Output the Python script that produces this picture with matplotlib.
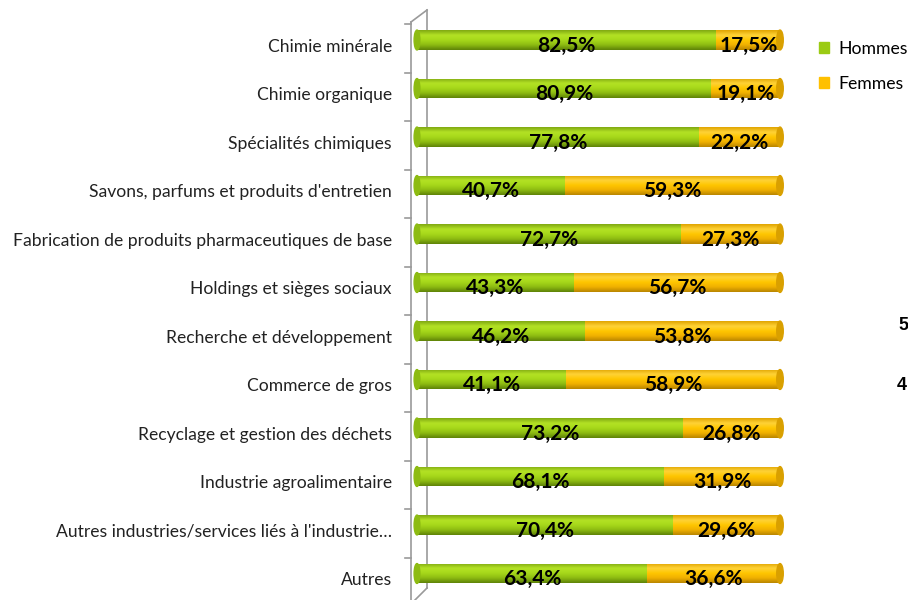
import numpy as np
import matplotlib
matplotlib.use("Agg")
import matplotlib.pyplot as plt
from matplotlib.colors import LinearSegmentedColormap
from matplotlib.patches import Patch, Ellipse

# ---------- données ----------
categories = [
    "Chimie minérale",
    "Chimie organique",
    "Spécialités chimiques",
    "Savons, parfums et produits d'entretien",
    "Fabrication de produits pharmaceutiques de base",
    "Holdings et sièges sociaux",
    "Recherche et développement",
    "Commerce de gros",
    "Recyclage et gestion des déchets",
    "Industrie agroalimentaire",
    "Autres industries/services liés à l'industrie…",
    "Autres",
]
hommes = [82.5, 80.9, 77.8, 40.7, 72.7, 43.3, 46.2, 41.1, 73.2, 68.1, 70.4, 63.4]
femmes = [17.5, 19.1, 22.2, 59.3, 27.3, 56.7, 53.8, 58.9, 26.8, 31.9, 29.6, 36.6]
series_labels = ["Hommes", "Femmes"]

vert = "#9BCB14"
orange = "#FFC000"
cmap_vert = LinearSegmentedColormap.from_list(
    "v", ["#7FA812", "#B4E225", "#A6D81A", "#8DBB12", "#5E8208"])
cmap_orange = LinearSegmentedColormap.from_list(
    "o", ["#E0A400", "#FFD338", "#FFC600", "#F0B000", "#B88500"])

plt.rcParams["font.family"] = ["Lato", "DejaVu Sans"]

fig = plt.figure(figsize=(9.08, 6.0), dpi=100)
# axe : 0 % -> 417 px, 100 % -> 780 px
px = 3.63
x_left, x_right = 405, 790
ax = fig.add_axes([x_left / 908, 2 / 600, (x_right - x_left) / 908, 588 / 600])
ax.set_xlim((x_left - 417) / px, (x_right - 417) / px)
y0, dy = 40, 48.5
ax.set_ylim((598 - y0) / dy, (10 - y0) / dy)
ax.axis("off")

y = np.arange(len(categories))
h = 0.41
grad = np.linspace(0, 1, 64).reshape(-1, 1)

def cylindre(bars, cmap):
    for b in bars:
        x, yb, w, hh = b.get_x(), b.get_y(), b.get_width(), b.get_height()
        im = ax.imshow(grad, cmap=cmap, aspect="auto", extent=(x, x + w, yb + hh, yb),
                       interpolation="bicubic", zorder=2)
        im.set_clip_path(b)

b1 = ax.barh(y, hommes, height=h, color=vert, zorder=1)
b2 = ax.barh(y, femmes, left=hommes, height=h, color=orange, zorder=1)
cylindre(b1, cmap_vert)
cylindre(b2, cmap_orange)

# bouts arrondis
for i in range(len(categories)):
    ax.add_patch(Ellipse((0, y[i]), 1.6, h, color="#8DBB12", zorder=3))
    ax.add_patch(Ellipse((100, y[i]), 1.8, h, color="#D9A000", zorder=3))

# étiquettes de valeurs
for i in range(len(categories)):
    ax.text(hommes[i] / 2, y[i] + 0.12, f"{hommes[i]:.1f}%".replace(".", ","),
            ha="center", va="center", fontsize=15, fontweight="bold", color="black", zorder=4)
    ax.text(hommes[i] + femmes[i] / 2, y[i] + 0.12, f"{femmes[i]:.1f}%".replace(".", ","),
            ha="center", va="center", fontsize=15, fontweight="bold", color="black", zorder=4)

# catégories
for i, cat in enumerate(categories):
    ax.text((392 - 417) / px, y[i] + 0.14, cat, ha="right", va="center",
            fontsize=12.6, color="#222222", clip_on=False)

# paroi 3D de l'axe
gris = "#9A9A9A"
xa, xb = (411 - 417) / px, (427 - 417) / px
ya_top, yb_top = (22 - y0) / dy, (10 - y0) / dy
ya_bot, yb_bot = (600 - y0) / dy, (588 - y0) / dy
ax.plot([xa, xa], [ya_top, ya_bot], color=gris, lw=1.2, clip_on=False, zorder=0)
ax.plot([xb, xb], [yb_top, yb_bot], color=gris, lw=1.2, clip_on=False, zorder=0)
ax.plot([xa, xb], [ya_top, yb_top], color=gris, lw=1.2, clip_on=False, zorder=0)
ax.plot([xa + 1.1, xb], [ya_bot, yb_bot], color=gris, lw=1.2, clip_on=False, zorder=0)
for k in range(len(categories)):
    yt = (24 + k * dy - y0) / dy
    ax.plot([(405 - 417) / px, xa], [yt, yt], color=gris, lw=1.2, clip_on=False, zorder=0)

# légende
handles = [Patch(color=vert), Patch(color=orange)]
fig.legend(handles, series_labels, loc="upper left", bbox_to_anchor=(808 / 908, 1 - 30 / 600),
           frameon=False, fontsize=12.7, handlelength=0.6, handleheight=0.6,
           handletextpad=0.5, labelspacing=1.1, borderaxespad=0.2)

# fragments coupés à droite
fig.text(898 / 908, 1 - 325 / 600, "5", fontsize=13, fontweight="bold", va="center",
         family="Liberation Sans")
fig.text(897 / 908, 1 - 386 / 600, "4", fontsize=13, fontweight="bold", va="center",
         family="Liberation Sans")

fig.savefig("out.png", dpi=100)
